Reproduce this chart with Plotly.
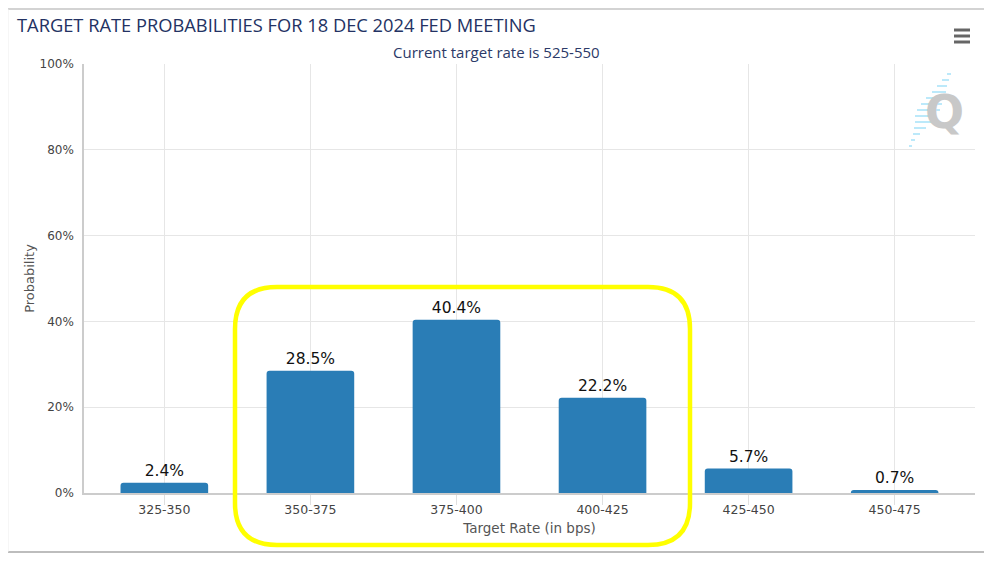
import plotly.graph_objects as go

# ---- data ----
categories = ["325-350", "350-375", "375-400", "400-425", "425-450", "450-475"]
probabilities = [2.4, 28.5, 40.4, 22.2, 5.7, 0.7]
y_ticks = [0, 20, 40, 60, 80, 100]
y_tick_labels = ["0%", "20%", "40%", "60%", "80%", "100%"]

title_text = "TARGET RATE PROBABILITIES FOR 18 DEC 2024 FED MEETING"
subtitle_text = "Current target rate is 525-550"

OFF = 8  # browser default body margin
W, H = 992 - OFF, 561 - OFF
# plot area in screen pixels (reference), converted to figure pixels
L, R, T, B = 84 - OFF, 975 - OFF, 64 - OFF, 493 - OFF

def px(x):
    return (x - OFF - L) / (R - L)

def py(y):
    return (B - (y - OFF)) / (B - T)

fig = go.Figure()
fig.add_trace(go.Bar(
    x=categories, y=probabilities,
    marker=dict(color="#2a7db6", cornerradius=3, line=dict(width=0)),
    texttemplate="%{y:.1f}%", textposition="outside",
    textfont=dict(size=15.5, color="#111", family="DejaVu Sans"),
    cliponaxis=False, hoverinfo="x+y",
))

shapes = []
# outer frame: top, right, bottom grey; left faint
for (xa, ya, xb, yb, col, wd) in [
        (7, 9, 985, 9, "#c4c4c4", 1.5),
        (985, 9, 985, 552, "#c4c4c4", 1.5),
        (7, 552, 985, 552, "#bdbdbd", 2),
        (8, 9, 8, 552, "#eeeeee", 1)]:
    shapes.append(dict(type="line", xref="paper", yref="paper",
                       x0=px(xa), x1=px(xb), y0=py(ya), y1=py(yb),
                       line=dict(color=col, width=wd), layer="below"))

# yellow rounded highlight box
x0, x1, y0, y1, r = 235, 690, 287, 545, 42
rx, ry = r / (R - L), r / (B - T)
X0, X1, Y0, Y1 = px(x0), px(x1), py(y1), py(y0)
path = (f"M {X0+rx},{Y1} L {X1-rx},{Y1} Q {X1},{Y1} {X1},{Y1-ry} "
        f"L {X1},{Y0+ry} Q {X1},{Y0} {X1-rx},{Y0} "
        f"L {X0+rx},{Y0} Q {X0},{Y0} {X0},{Y0+ry} "
        f"L {X0},{Y1-ry} Q {X0},{Y1} {X0+rx},{Y1} Z")
shapes.append(dict(type="path", xref="paper", yref="paper", path=path,
                   line=dict(color="#ffff00", width=4.5), layer="above"))

# hamburger menu icon
for yy in (30, 36, 42):
    shapes.append(dict(type="line", xref="paper", yref="paper",
                       x0=px(954), x1=px(970), y0=py(yy), y1=py(yy),
                       line=dict(color="#666666", width=3)))

# watermark dashes
dash_rows = [(74, 947, 951), (80, 942, 949), (86, 937, 947), (92, 932, 946),
             (98, 926, 944), (104, 921, 942), (110, 917, 940), (116, 915, 936),
             (122, 915, 932), (128, 914, 926), (134, 913, 920), (140, 911, 915),
             (146, 909, 912)]
for yy, xa, xb in dash_rows:
    shapes.append(dict(type="line", xref="paper", yref="paper",
                       x0=px(xa), x1=px(xb), y0=py(yy), y1=py(yy),
                       line=dict(color="#a6e2f8", width=1.5), layer="below"))

annotations = [
    dict(text=subtitle_text, xref="paper", yref="paper", x=px(496), y=py(52),
         showarrow=False, xanchor="center", yanchor="middle",
         font=dict(size=15, color="#2c3a68", family="Open Sans")),
    dict(text="<b>Q</b>", xref="paper", yref="paper", x=px(944), y=py(112),
         showarrow=False, xanchor="center", yanchor="middle",
         font=dict(size=46, color="#c8c8c8", family="DejaVu Sans")),
]

fig.update_layout(
    width=W, height=H,
    margin=dict(l=L, r=W - R, t=T, b=H - B, pad=0),
    paper_bgcolor="white", plot_bgcolor="white",
    title=dict(text=title_text, xref="container", yref="container",
               x=(17 - OFF) / W, y=1 - (26 - OFF) / H,
               xanchor="left", yanchor="middle",
               font=dict(size=18.3, color="#233263", family="Open Sans")),
    font=dict(family="DejaVu Sans", color="#555555", size=12),
    bargap=0.4,
    showlegend=False,
    shapes=shapes,
    annotations=annotations,
    xaxis=dict(
        type="category", range=[-0.55, 5.55],
        showgrid=True, gridcolor="#e6e6e6", gridwidth=1,
        showline=True, linecolor="#cccccc", linewidth=1.5,
        ticks="outside", ticklen=10, tickcolor="#e0e0e0",
        ticklabelstandoff=-6,
        tickfont=dict(size=12.5, color="#444444"),
        title=dict(text="Target Rate (in bps)", standoff=8,
                   font=dict(size=13.5, color="#555555")),
        fixedrange=True,
    ),
    yaxis=dict(
        range=[0, 100], tickvals=y_ticks, ticktext=y_tick_labels,
        showgrid=True, gridcolor="#e6e6e6", gridwidth=1,
        showline=True, linecolor="#cccccc", linewidth=1.5,
        zeroline=False, ticks="", ticklabelstandoff=6,
        tickfont=dict(size=12, color="#444444"),
        title=dict(text="Probability", standoff=2,
                   font=dict(size=13, color="#555555")),
        fixedrange=True,
    ),
)

fig.write_html("out.html", config={"displayModeBar": False})
